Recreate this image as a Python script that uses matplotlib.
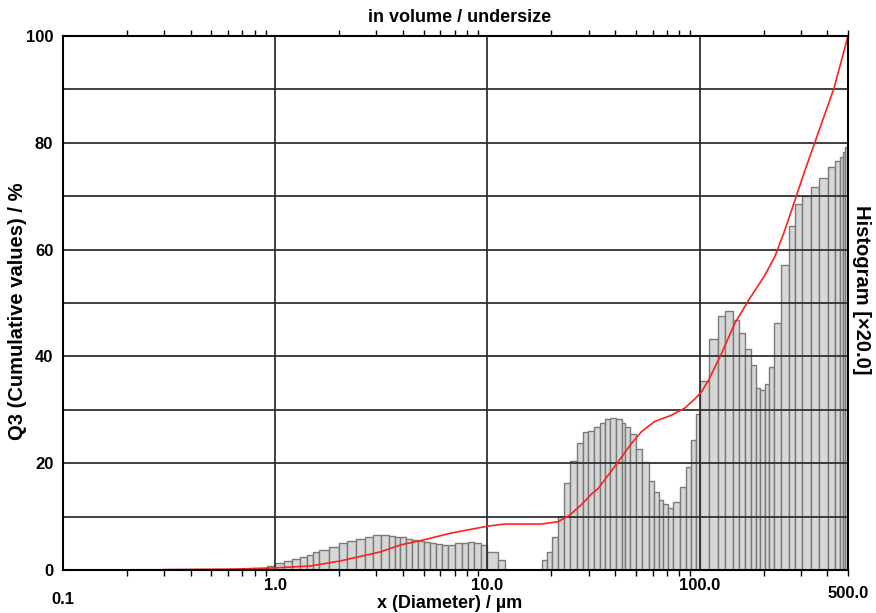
import numpy as np
import matplotlib
matplotlib.use("Agg")
import matplotlib.pyplot as plt
from matplotlib.ticker import LogLocator, NullFormatter, FixedLocator

plt.rcParams['font.family'] = ['Liberation Sans', 'DejaVu Sans']
plt.rcParams['font.weight'] = 'bold'

# histogram class edges (um) and heights (already scaled x20, in % units)
edges = [0.295, 0.322, 0.352, 0.384, 0.418, 0.457, 0.498, 0.544, 0.593, 0.647,
         0.706, 0.770, 0.840, 0.917, 1.0,
         1.103, 1.203, 1.313, 1.416, 1.512, 1.614, 1.800, 2.007, 2.190, 2.415,
         2.635, 2.875, 3.137, 3.422, 3.653, 3.857, 4.118, 4.395, 4.692, 5.009,
         5.348, 5.707, 6.093, 6.505, 7.020, 7.575, 8.088, 8.635, 9.318, 10.0,
         11.21, 12.10, 12.91, 13.79, 14.72, 15.88, 16.96, 18.10, 19.11, 20.18,
         21.54, 23.00, 24.55, 26.50, 28.29, 29.87, 31.88, 34.03, 35.94, 37.95,
         40.52, 43.25, 44.69, 47.19, 50.38, 53.78, 57.41, 60.62, 64.01, 66.87,
         70.60, 74.54, 80.44, 85.87, 90.67, 95.74, 100.0,
         110.3, 121.6, 131.3, 143.2, 152.9, 163.2, 174.2, 184.0, 192.1, 202.9,
         212.0, 223.8, 241.5, 263.5, 281.4, 303.6, 334.8, 365.3, 402.9, 434.7,
         458.0, 472.0, 486.0, 500.0]

hist_sub1 = [0.1, 0.1, 0.1, 0.1, 0.1, 0.15, 0.15, 0.15, 0.15, 0.2, 0.25, 0.3, 0.45, 0.8]
hist_1_10 = [1.4, 1.7, 2.1, 2.5, 2.9, 3.3, 3.7, 4.4, 5.0, 5.4,
             5.8, 6.2, 6.5, 6.5, 6.4, 6.2, 6.1, 5.8, 5.6, 5.4,
             5.2, 5.0, 4.8, 4.6, 4.7, 5.0, 5.1, 5.3, 5.1, 4.7]
hist_10_100 = [3.4, 1.9, 0, 0, 0, 0, 0, 0, 1.9, 3.4,
               6.1, 10.0, 16.3, 20.4, 23.8, 25.8, 26.0, 26.8, 27.6, 28.2,
               28.4, 28.2, 27.6, 26.8, 25.4, 22.6, 20.3, 16.7, 14.7, 13.1,
               12.4, 11.6, 12.8, 15.5, 19.2, 24.3, 29.2]
hist_100_500 = [35.4, 43.2, 47.5, 48.5, 46.8, 44.3, 41.3, 38.3, 34.1, 33.8,
                34.8, 38.0, 46.2, 57.1, 64.4, 68.5, 70.0, 71.7, 73.4, 75.4,
                76.6, 77.4, 78.3, 79.3]
heights = hist_sub1 + hist_1_10 + hist_10_100 + hist_100_500

# cumulative Q3 curve
q3_x = [0.1, 0.3, 0.6, 0.76, 1.0, 1.464, 2.029, 3.137, 3.899, 4.850, 6.721, 10.0,
        11.97, 17.90, 21.54, 24.28, 27.68, 30.86, 33.31, 39.64, 47.71, 53.19,
        61.28, 73.73, 84.93, 94.71, 102.2, 110.3, 127.0, 146.4, 170.5, 202.9,
        226.2, 252.3, 281.4, 313.7, 349.8, 430.1, 500.0]
q3_y = [0.0, 0.05, 0.15, 0.25, 0.4, 0.75, 1.7, 3.4, 4.7, 5.5, 6.9, 8.2,
        8.6, 8.6, 9.05, 10.2, 12.2, 14.2, 15.3, 19.3, 23.7, 25.9,
        27.8, 29.0, 30.3, 32.0, 33.4, 35.6, 40.6, 46.2, 50.6, 55.2,
        58.7, 63.7, 69.3, 74.9, 80.2, 90.3, 100.0]

fig = plt.figure(figsize=(8.76, 6.13), dpi=100)
ax = fig.add_axes([63/876, 1-570/613, (848-63)/876, (570-36)/613])

left = np.array(edges[:-1])
widths = np.diff(edges)
ax.bar(left, heights, width=widths, align='edge', color='#d6d6d6',
       edgecolor='#7a7a7a', linewidth=1.0, zorder=2)

ax.plot(q3_x, q3_y, color='#ff2020', linewidth=1.2, zorder=5)

ax.set_xscale('log')
ax.set_xlim(0.1, 500)
ax.set_ylim(0, 100)

# grid
for yv in range(10, 100, 10):
    ax.axhline(yv, color='#303030', linewidth=1.3, zorder=3)
for xv in [1, 10, 100]:
    ax.axvline(xv, color='#303030', linewidth=1.3, zorder=3)

ax.xaxis.set_major_locator(FixedLocator([]))
ax.xaxis.set_minor_locator(LogLocator(base=10, subs=np.arange(2, 10)))
ax.xaxis.set_minor_formatter(NullFormatter())
ax.tick_params(axis='x', which='minor', direction='out', length=4, width=1,
               top=True, bottom=True, color='black')

ax.set_yticks([0, 20, 40, 60, 80, 100])
ax.set_yticklabels(['0', '20', '40', '60', '80', '100'])
ax.tick_params(axis='y', length=0, pad=7, labelsize=12)
for lab in ax.get_yticklabels():
    lab.set_fontweight('bold')

for s in ax.spines.values():
    s.set_linewidth(1.5)
    s.set_color('black')
    s.set_zorder(6)

# x labels placed like the reference
tr = ax.get_xaxis_transform()
for xv, txt in [(1, '1.0'), (10, '10.0'), (100, '100.0')]:
    ax.text(xv, -0.015, txt, transform=tr, ha='center', va='top',
            fontsize=12, fontweight='bold')
ax.text(0.1, -0.042, '0.1', transform=tr, ha='center', va='top',
        fontsize=12, fontweight='bold')
ax.text(500, -0.03, '500.0', transform=tr, ha='center', va='top',
        fontsize=12, fontweight='bold')

fig.text(460/876, 1-18/613, 'in volume / undersize', ha='center', va='center',
         fontsize=13, fontweight='bold')
fig.text(450/876, 1-604/613, 'x (Diameter) / µm', ha='center', va='center',
         fontsize=13, fontweight='bold')
fig.text(18/876, 1-311/613, 'Q3 (Cumulative values) / %', ha='center', va='center',
         rotation=90, fontsize=14.5, fontweight='bold')
fig.text(862/876, 1-290/613, 'Histogram [×20.0]', ha='center', va='center',
         rotation=-90, fontsize=14.5, fontweight='bold')

fig.savefig('out.png', dpi=100)
